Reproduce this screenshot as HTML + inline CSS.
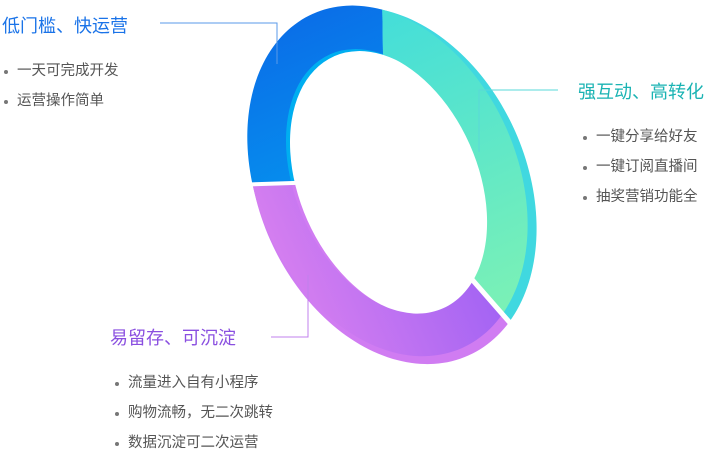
<!DOCTYPE html>
<html><head><meta charset="utf-8"><style>
body{margin:0;width:719px;height:451px;background:#fff;position:relative;overflow:hidden;font-family:"Liberation Sans","Noto Sans CJK SC",sans-serif}
.t{position:absolute;font-size:18px;white-space:nowrap;line-height:1}
.b{position:absolute;font-size:14.5px;color:#555;white-space:nowrap;line-height:1}
.b::before{content:"";position:absolute;left:-13px;top:6px;width:4px;height:4px;border-radius:50%;background:#777}
svg{position:absolute;left:0;top:0}
</style></head><body>
<svg width="719" height="451">
<defs>
<linearGradient id="gb" x1="0" y1="0" x2="0" y2="1"><stop offset="0" stop-color="#0a6fe8"/><stop offset="1" stop-color="#00b9f5"/></linearGradient>
<linearGradient id="gg" x1="0" y1="0" x2="0" y2="1"><stop offset="0" stop-color="#3fdcdc"/><stop offset="1" stop-color="#7ef2b4"/></linearGradient>
<linearGradient id="gp" x1="0" y1="0" x2="1" y2="0"><stop offset="0" stop-color="#d47ef0"/><stop offset="1" stop-color="#8e58f5"/></linearGradient>
<clipPath id="cb"><polygon points="385,180 382,-10 200,-10 200,186"/></clipPath>
<clipPath id="cg"><polygon points="385,180 382,-10 720,-10 720,420 560,380"/></clipPath>
<clipPath id="cp"><polygon points="385,180 200,186 200,460 600,460 560,380"/></clipPath>
<path id="ring" fill-rule="evenodd" d="M387,-2 a130,183 0 1,0 0.1,0 Z M386,42 a91,139 0 1,0 0.1,0 Z" transform="rotate(-24 387 180)"/>
<path id="ring2" fill-rule="evenodd" d="M387,-2 a134,186 0 1,0 0.1,0 Z M386,42 a91,139 0 1,0 0.1,0 Z" transform="translate(4,2) rotate(-24 387 180)"/>
</defs>
<g clip-path="url(#cb)"><use href="#ring2" fill="#00aef0"/><use href="#ring" fill="url(#gb)"/></g>
<g clip-path="url(#cg)"><use href="#ring2" fill="#40d8e0"/><use href="#ring" fill="url(#gg)"/></g>
<g clip-path="url(#cp)"><use href="#ring2" fill="#d07cf2"/><use href="#ring" fill="url(#gp)"/></g>
<line x1="385" y1="180" x2="200" y2="186" stroke="#fff" stroke-width="4"/>
<line x1="385" y1="180" x2="560" y2="380" stroke="#fff" stroke-width="5"/>
<polyline points="160,23 277,23 277,64" fill="none" stroke="#5a9ae8" stroke-width="1"/>
<polyline points="558,90 479,90 479,152" fill="none" stroke="#5ad8d8" stroke-width="1"/>
<polyline points="271,337 308,337 308,275" fill="none" stroke="#c080ec" stroke-width="1"/>
</svg>
<div class="t" style="left:2px;top:17px;color:#1a73e8">低门槛、快运营</div>
<div class="b" style="left:17px;top:64px">一天可完成开发</div>
<div class="b" style="left:17px;top:94px">运营操作简单</div>
<div class="t" style="left:578px;top:83px;color:#1ab3b3">强互动、高转化</div>
<div class="b" style="left:596px;top:130px">一键分享给好友</div>
<div class="b" style="left:596px;top:160px">一键订阅直播间</div>
<div class="b" style="left:596px;top:190px">抽奖营销功能全</div>
<div class="t" style="left:110px;top:329px;color:#8a4fe0">易留存、可沉淀</div>
<div class="b" style="left:128px;top:376px">流量进入自有小程序</div>
<div class="b" style="left:128px;top:406px">购物流畅，无二次跳转</div>
<div class="b" style="left:128px;top:436px">数据沉淀可二次运营</div>
</body></html>
